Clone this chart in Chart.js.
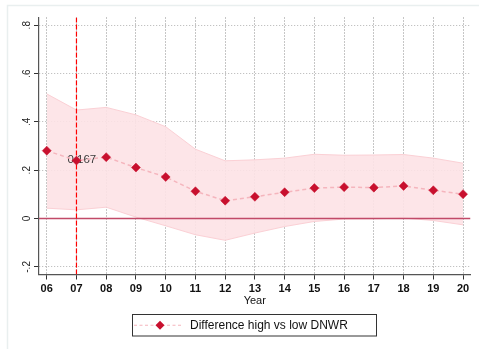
<!DOCTYPE html>
<html>
<head>
<meta charset="utf-8">
<script src="https://cdn.jsdelivr.net/npm/chart.js@4.4.1/dist/chart.umd.min.js"></script>
<style>
  html, body { margin: 0; padding: 0; background: #ffffff; }
  #wrap { width: 479px; height: 349px; position: relative; }
</style>
</head>
<body>
<div id="wrap"><canvas id="c" width="479" height="349"></canvas></div>
<script>
// ---- data ----
const years = [6, 7, 8, 9, 10, 11, 12, 13, 14, 15, 16, 17, 18, 19, 20];
const yearLabels = ['06', '07', '08', '09', '10', '11', '12', '13', '14', '15', '16', '17', '18', '19', '20'];
const estimates = [0.281, 0.240, 0.254, 0.211, 0.172, 0.113, 0.074, 0.090, 0.109, 0.126, 0.130, 0.128, 0.135, 0.117, 0.101];
const ciUpper = [0.516, 0.449, 0.460, 0.429, 0.380, 0.287, 0.239, 0.243, 0.250, 0.266, 0.262, 0.263, 0.265, 0.250, 0.229];
const ciLower = [0.043, 0.036, 0.047, 0.006, -0.030, -0.067, -0.090, -0.060, -0.033, -0.012, -0.002, -0.001, 0.002, -0.008, -0.026];
const yTickValues = [-0.2, 0, 0.2, 0.4, 0.6, 0.8];
const yTickLabels = ['-.2', '0', '.2', '.4', '.6', '.8'];
const eventYear = 7;
const annotationText = '0.167';
const annotationValue = 0.240;
const seriesName = 'Difference high vs low DNWR';
const xTitle = 'Year';
const xMin = 5.74, xMax = 20.25;
const yMin = -0.2315, yMax = 0.832;

const pts = (vals) => years.map((x, i) => ({ x: x, y: vals[i] }));

const yLabelPlugin = {
  id: 'yLabels',
  afterDraw(chart) {
    const ctx = chart.ctx, ys = chart.scales.y;
    ctx.save();
    ctx.font = '10px "Liberation Sans", Arial, sans-serif';
    ctx.fillStyle = '#222';
    ctx.textAlign = 'center';
    ctx.textBaseline = 'middle';
    yTickValues.forEach((v, i) => {
      const py = ys.getPixelForValue(v);
      ctx.save();
      ctx.translate(27.5, py);
      ctx.rotate(-Math.PI / 2);
      ctx.fillText(yTickLabels[i], 0, 0);
      ctx.restore();
    });
    ctx.restore();
  }
};

const annotationPlugin = {
  id: 'annot',
  beforeDatasetsDraw(chart) {
    const ctx = chart.ctx;
    const px = chart.scales.x.getPixelForValue(eventYear);
    const py = chart.scales.y.getPixelForValue(annotationValue);
    ctx.save();
    ctx.font = '11.5px "Liberation Sans", Arial, sans-serif';
    ctx.fillStyle = '#3a3a3a';
    ctx.textAlign = 'left';
    ctx.textBaseline = 'middle';
    ctx.fillText(annotationText, px - 9, py - 1);
    ctx.restore();
  }
};

const framePlugin = {
  id: 'frame',
  beforeDraw(chart) {
    const ctx = chart.ctx;
    ctx.save();
    ctx.fillStyle = '#ffffff';
    ctx.fillRect(0, 0, chart.width, chart.height);
    ctx.strokeStyle = '#e9efef';
    ctx.lineWidth = 1.5;
    ctx.beginPath();
    ctx.moveTo(7.5, 349);
    ctx.lineTo(7.5, 5.5);
    ctx.lineTo(479, 5.5);
    ctx.stroke();
    ctx.restore();
  }
};

const legendPlugin = {
  id: 'customLegend',
  afterDraw(chart) {
    const ctx = chart.ctx;
    const bx = 132.5, by = 314.5, bw = 244, bh = 21.5;
    const cy = by + bh / 2;
    ctx.save();
    ctx.strokeStyle = '#333';
    ctx.lineWidth = 1;
    ctx.strokeRect(bx, by, bw, bh);
    ctx.strokeStyle = '#f5b5bd';
    ctx.lineWidth = 1.2;
    ctx.setLineDash([3, 2.5]);
    ctx.beginPath();
    ctx.moveTo(134, cy);
    ctx.lineTo(183, cy);
    ctx.stroke();
    ctx.setLineDash([]);
    ctx.fillStyle = '#c8102e';
    const mx = 160, r = 4.5;
    ctx.beginPath();
    ctx.moveTo(mx, cy - r); ctx.lineTo(mx + r, cy); ctx.lineTo(mx, cy + r); ctx.lineTo(mx - r, cy); ctx.closePath();
    ctx.fill();
    ctx.font = '12px "Liberation Sans", Arial, sans-serif';
    ctx.fillStyle = '#111';
    ctx.textAlign = 'left';
    ctx.textBaseline = 'middle';
    ctx.fillText(seriesName, 190, cy + 0.5);
    ctx.restore();
  }
};

new Chart(document.getElementById('c'), {
  type: 'line',
  data: {
    datasets: [
      {
        label: seriesName,
        data: pts(estimates),
        borderColor: '#f5b5bd',
        borderWidth: 1.5,
        borderDash: [4, 3],
        pointStyle: 'rectRot',
        pointRadius: 4.5,
        pointBackgroundColor: '#c8102e',
        pointBorderColor: '#c8102e',
        pointBorderWidth: 0.5,
        tension: 0,
        fill: false,
        order: 0
      },
      {
        label: 'event',
        data: [{ x: eventYear, y: yMin }, { x: eventYear, y: yMax }],
        borderColor: '#ff0000',
        borderWidth: 1.2,
        borderDash: [5, 2],
        pointRadius: 0,
        fill: false,
        order: 1
      },
      {
        label: 'zero',
        data: [{ x: xMin, y: 0 }, { x: xMax, y: 0 }],
        borderColor: '#c14a68',
        borderWidth: 1.5,
        pointRadius: 0,
        fill: false,
        order: 2
      },
      {
        label: 'upper',
        data: pts(ciUpper),
        borderColor: '#fbd0d5',
        borderWidth: 1,
        backgroundColor: 'rgba(253, 226, 229, 0.9)',
        pointRadius: 0,
        tension: 0,
        fill: '+1',
        order: 3
      },
      {
        label: 'lower',
        data: pts(ciLower),
        borderColor: '#fbd0d5',
        borderWidth: 1,
        pointRadius: 0,
        tension: 0,
        fill: false,
        order: 4
      }
    ]
  },
  options: {
    responsive: false,
    animation: false,
    devicePixelRatio: 1,
    layout: { padding: { left: 0, top: 17.5, right: 8.5, bottom: 41.5 } },
    plugins: {
      legend: { display: false },
      tooltip: { enabled: false },
      filler: { drawTime: 'beforeDatasetsDraw' }
    },
    elements: { line: { capBezierPoints: false } },
    scales: {
      x: {
        type: 'linear',
        min: xMin,
        max: xMax,
        afterBuildTicks: (s) => { s.ticks = years.map(v => ({ value: v })); },
        afterFit: (s) => { s.height = 33; },
        ticks: {
          autoSkip: false,
          maxRotation: 0,
          padding: 3,
          color: '#111',
          font: { family: '"Liberation Sans", Arial, sans-serif', size: 11, weight: 'bold' },
          callback: (v) => { const i = years.indexOf(v); return i >= 0 ? yearLabels[i] : ''; }
        },
        grid: {
          color: '#8c8c8c',
          lineWidth: 1,
          drawTicks: true,
          tickLength: 5,
          tickColor: '#333',
          tickWidth: 1,
          tickBorderDash: []
        },
        border: { display: true, color: '#555', width: 1.2, dash: [1, 2] },
        title: {
          display: true,
          text: xTitle,
          color: '#111',
          padding: 0,
          font: { family: '"Liberation Sans", Arial, sans-serif', size: 11 }
        }
      },
      y: {
        type: 'linear',
        min: yMin,
        max: yMax,
        afterBuildTicks: (s) => { s.ticks = yTickValues.map(v => ({ value: v })); },
        afterFit: (s) => { s.width = 39; },
        ticks: { display: false },
        grid: {
          color: '#b4b4b4',
          lineWidth: 1,
          drawTicks: true,
          tickLength: 5,
          tickColor: '#333',
          tickWidth: 1,
          tickBorderDash: []
        },
        border: { display: true, color: '#555', width: 1.2, dash: [1, 2] }
      }
    }
  },
  plugins: [framePlugin, annotationPlugin, yLabelPlugin, legendPlugin]
});
</script>
</body>
</html>
